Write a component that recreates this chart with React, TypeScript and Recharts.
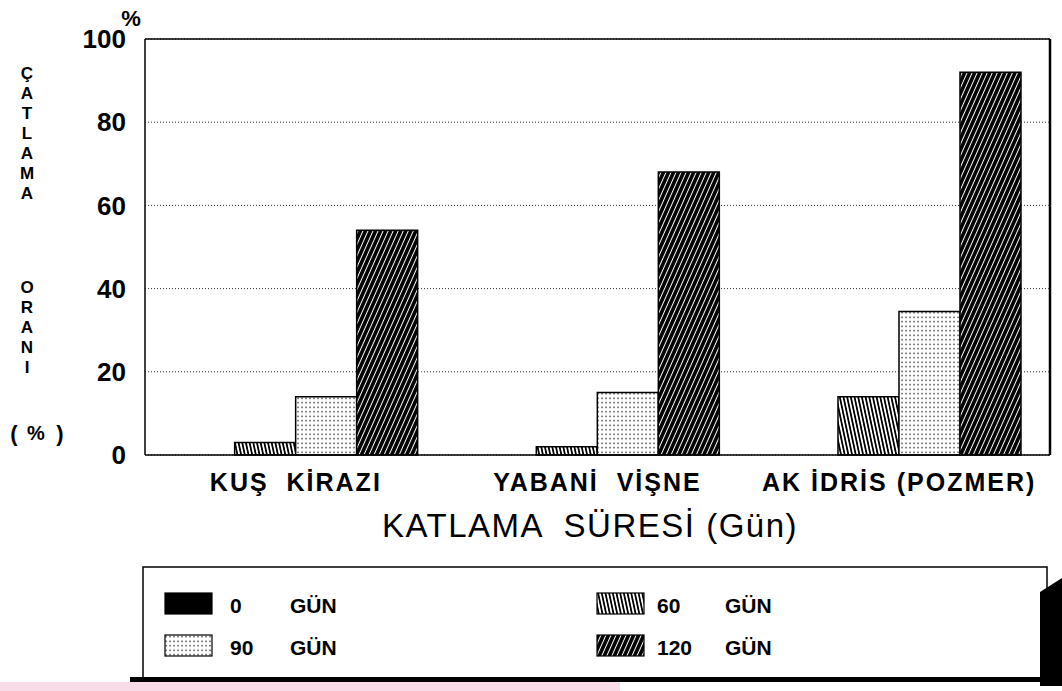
import React from 'react';
import { BarChart, Bar, XAxis, YAxis, CartesianGrid, ReferenceLine } from 'recharts';

const FONT = '"Liberation Sans", Arial, Helvetica, sans-serif';

const categories = ['KUŞ  KİRAZI', 'YABANİ  VİŞNE', 'AK İDRİS (POZMER)'];
const gun0 = [0, 0, 0];
const gun60 = [3, 2, 14];
const gun90 = [14, 15, 34.5];
const gun120 = [54, 68, 92];
const seriesNames = ['0 GÜN', '60 GÜN', '90 GÜN', '120 GÜN'];
const yTicks = [0, 20, 40, 60, 80, 100];
const yTitleTop = 'ÇATLAMA';
const yTitleBottom = 'ORANI';
const xTitle = 'KATLAMA  SÜRESİ (Gün)';

const data = categories.map((c, i) => ({
  name: c,
  g0: gun0[i],
  g60: gun60[i],
  g90: gun90[i],
  g120: gun120[i],
}));

const seriesKeys = ['g0', 'g60', 'g90', 'g120'];
const patternIds = ['p0', 'p60', 'p90', 'p120'];

function Patterns({ prefix }: { prefix: string }) {
  return (
    <defs>
      <pattern id={`${prefix}p0`} patternUnits="userSpaceOnUse" width="4" height="4">
        <rect width="4" height="4" fill="#000" />
      </pattern>
      <pattern id={`${prefix}p60`} patternUnits="userSpaceOnUse" width="3.6" height="10" patternTransform="rotate(-12)">
        <rect width="3.6" height="10" fill="#fff" />
        <rect x="0" width="1.8" height="10" fill="#000" />
      </pattern>
      <pattern id={`${prefix}p90`} patternUnits="userSpaceOnUse" width="4" height="4.5">
        <rect width="4" height="4.5" fill="#fff" />
        <rect x="1.4" y="1.6" width="1.3" height="1.3" fill="#111" />
      </pattern>
      <pattern id={`${prefix}p120`} patternUnits="userSpaceOnUse" width="4.6" height="10" patternTransform="rotate(24)">
        <rect width="4.6" height="10" fill="#000" />
        <rect x="1.8" width="1" height="10" fill="#fff" />
      </pattern>
    </defs>
  );
}

const XTick = (props: any) => {
  const { x, y, payload } = props;
  return (
    <text
      x={x}
      y={y + 18}
      dy="0.71em"
      textAnchor="middle"
      fontFamily={FONT}
      fontSize={25}
      fontWeight="bold"
      letterSpacing={2}
      fill="#000"
      style={{ whiteSpace: 'pre' }}
    >
      {payload.value}
    </text>
  );
};

function Overlay() {
  const swX = [165, 597];
  const swY = [593, 635];
  const numX = [230, 657];
  const unitX = [290, 725];
  const letter = { textAnchor: 'middle' as const, dominantBaseline: 'central' as const, fontFamily: FONT, fontWeight: 'bold', fill: '#000' };
  return (
    <svg width={1062} height={691} style={{ position: 'absolute', left: 0, top: 0, pointerEvents: 'none' }}>
      <Patterns prefix="lg" />
      {yTitleTop.split('').map((ch, i) => (
        <text key={'t' + i} x={27} y={73 + i * 20} fontSize={17} {...letter}>
          {ch}
        </text>
      ))}
      {yTitleBottom.split('').map((ch, i) => (
        <text key={'b' + i} x={27} y={287 + i * 20} fontSize={17} {...letter}>
          {ch}
        </text>
      ))}
      <text x={14} y={433} fontSize={22} {...letter}>(</text>
      <text x={36} y={433} fontSize={20} {...letter}>%</text>
      <text x={60} y={433} fontSize={22} {...letter}>)</text>
      <text x={131} y={18} fontSize={22} {...letter}>%</text>
      <text x={590} y={537} textAnchor="middle" fontFamily={FONT} fontSize={33} letterSpacing={1.5} fill="#000" style={{ whiteSpace: 'pre' }}>
        {xTitle}
      </text>
      <rect x={143} y={567} width={904} height={111} fill="none" stroke="#000" strokeWidth={1.5} />
      <rect x={0} y={682} width={620} height={9} fill="#f6d3e2" opacity={0.8} />
      <rect x={130} y={677} width={932} height={5} fill="#000" />
      <polygon points="1040,592 1062,578 1062,686 1040,686" fill="#000" />
      {seriesNames.map((nm, i) => {
        const col = i % 2;
        const row = Math.floor(i / 2);
        const [num, unit] = nm.split(' ');
        const base = swY[row] + 20;
        return (
          <g key={nm}>
            <rect x={swX[col]} y={swY[row]} width={47} height={21} fill={`url(#lg${patternIds[i]})`} stroke="#000" strokeWidth={1.2} />
            <text x={numX[col]} y={base} fontFamily={FONT} fontSize={21} fontWeight="bold" fill="#000">
              {num}
            </text>
            <text x={unitX[col]} y={base} fontFamily={FONT} fontSize={21} fontWeight="bold" fill="#000">
              {unit}
            </text>
          </g>
        );
      })}
    </svg>
  );
}

export default function App() {
  return (
    <div style={{ position: 'absolute', left: 0, top: 0, width: 1062, height: 691, background: '#fff' }}>
      <BarChart
        width={1062}
        height={691}
        data={data}
        margin={{ top: 39, right: 11, left: 0, bottom: 196 }}
        barCategoryGap="9.5%"
        barGap={0}
      >
        <Patterns prefix="ch" />
        <CartesianGrid vertical={false} stroke="#333" strokeDasharray="1 2" strokeWidth={1} />
        <XAxis
          dataKey="name"
          height={40}
          interval={0}
          tickLine={false}
          tickSize={0}
          tickMargin={0}
          tick={XTick}
          axisLine={{ stroke: '#000', strokeWidth: 1.5 }}
        />
        <YAxis
          domain={[0, 100]}
          ticks={yTicks}
          width={145}
          tickLine={false}
          tickMargin={13}
          axisLine={{ stroke: '#000', strokeWidth: 1.5 }}
          tick={{ fontFamily: FONT, fontSize: 26, fontWeight: 'bold', fill: '#000' }}
        />
        <YAxis
          yAxisId="r"
          orientation="right"
          domain={[0, 100]}
          width={1}
          tick={false}
          tickLine={false}
          axisLine={{ stroke: '#000', strokeWidth: 2.5 }}
        />
        <ReferenceLine y={100} stroke="#000" strokeWidth={1.5} />
        {seriesKeys.map((k, i) => (
          <Bar
            key={k}
            dataKey={k}
            name={seriesNames[i]}
            fill={`url(#ch${patternIds[i]})`}
            stroke="#000"
            strokeWidth={1.5}
            isAnimationActive={false}
          />
        ))}
      </BarChart>
      <Overlay />
    </div>
  );
}
